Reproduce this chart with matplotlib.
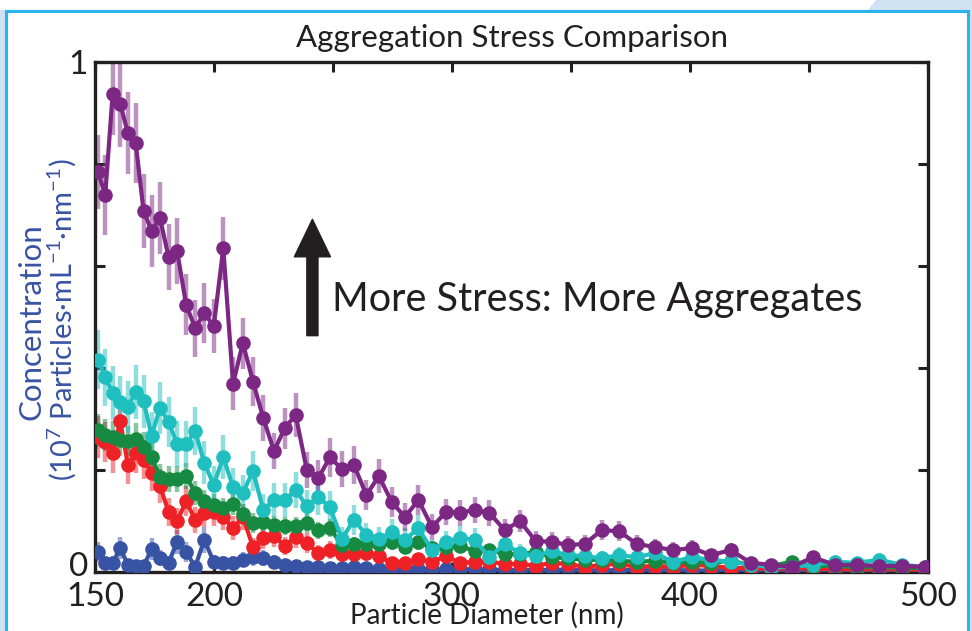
import matplotlib
matplotlib.use("Agg")
import matplotlib.pyplot as plt
import matplotlib.transforms as mtransforms
from matplotlib.patches import Rectangle, Polygon, FancyArrowPatch

plt.rcParams['font.family'] = ['Lato', 'DejaVu Sans']
plt.rcParams['mathtext.fontset'] = 'custom'
plt.rcParams['mathtext.rm'] = 'Lato'
plt.rcParams['mathtext.it'] = 'Lato:italic'

# ---------------- data ----------------
diameter = [151.3, 154.3, 157.4, 160.6, 163.8, 167.1, 170.4, 173.8, 177.3, 180.9,
            184.5, 188.3, 192.1, 195.9, 199.9, 203.9, 208.0, 212.1, 216.4, 220.7,
            225.2, 229.7, 234.3, 239.0, 243.8, 248.7, 253.7, 258.8, 264.0, 269.3,
            274.7, 280.2, 285.9, 291.6, 297.5, 303.4, 309.5, 315.7, 322.1, 328.5,
            335.1, 341.9, 348.8, 355.8, 362.9, 370.2, 377.6, 385.2, 392.9, 400.8,
            408.9, 417.1, 425.5, 434.0, 442.8, 451.7, 460.8, 470.0, 479.5, 489.1,
            498.9]

blue = [0.039, 0.018, 0.018, 0.047, 0.014, 0.012, 0.012, 0.045, 0.027, 0.018,
        0.059, 0.039, 0.010, 0.063, 0.020, 0.018, 0.018, 0.024, 0.029, 0.027,
        0.020, 0.014, 0.012, 0.010, 0.010, 0.008, 0.008, 0.010, 0.008, 0.006,
        0.006, 0.008, 0.006, 0.006, 0.005, 0.006, 0.005, 0.005, 0.004, 0.004,
        0.004, 0.004, 0.005, 0.004, 0.003, 0.004, 0.004, 0.003, 0.004, 0.003,
        0.003, 0.004, 0.003, 0.003, 0.003, 0.003, 0.003, 0.003, 0.003, 0.003,
        0.003]
blue_err = [0.020, 0.013, 0.013, 0.022, 0.012, 0.011, 0.011, 0.021, 0.016, 0.013,
            0.024, 0.020, 0.010, 0.025, 0.014, 0.013, 0.013, 0.015, 0.017, 0.016,
            0.014, 0.012, 0.011, 0.010, 0.010, 0.009, 0.009, 0.010, 0.009, 0.008,
            0.008, 0.009, 0.008, 0.008, 0.007, 0.008, 0.007, 0.007, 0.006, 0.006,
            0.006, 0.006, 0.007, 0.006, 0.006, 0.006, 0.006, 0.006, 0.006, 0.006,
            0.006, 0.006, 0.006, 0.006, 0.006, 0.006, 0.006, 0.006, 0.006, 0.006,
            0.006]

red = [0.265, 0.255, 0.233, 0.296, 0.210, 0.233, 0.220, 0.194, 0.169, 0.118,
       0.100, 0.139, 0.102, 0.116, 0.118, 0.108, 0.086, 0.108, 0.049, 0.067,
       0.071, 0.051, 0.069, 0.057, 0.037, 0.043, 0.035, 0.035, 0.037, 0.031,
       0.018, 0.018, 0.025, 0.020, 0.031, 0.018, 0.020, 0.020, 0.016, 0.016,
       0.012, 0.018, 0.016, 0.010, 0.014, 0.016, 0.010, 0.012, 0.010, 0.014,
       0.012, 0.008, 0.008, 0.006, 0.008, 0.006, 0.006, 0.005, 0.006, 0.005,
       0.005]
red_err = [0.041, 0.040, 0.039, 0.044, 0.037, 0.039, 0.038, 0.035, 0.033, 0.027,
           0.025, 0.030, 0.026, 0.027, 0.027, 0.026, 0.023, 0.026, 0.018, 0.021,
           0.021, 0.018, 0.021, 0.019, 0.015, 0.017, 0.015, 0.015, 0.015, 0.014,
           0.011, 0.011, 0.013, 0.011, 0.014, 0.011, 0.011, 0.011, 0.010, 0.010,
           0.009, 0.011, 0.010, 0.008, 0.009, 0.010, 0.008, 0.009, 0.008, 0.009,
           0.009, 0.007, 0.007, 0.006, 0.007, 0.006, 0.006, 0.006, 0.006, 0.006,
           0.006]

green = [0.278, 0.269, 0.265, 0.259, 0.257, 0.261, 0.245, 0.225, 0.186, 0.182,
         0.182, 0.188, 0.155, 0.139, 0.131, 0.125, 0.133, 0.114, 0.096, 0.098,
         0.092, 0.090, 0.090, 0.096, 0.082, 0.086, 0.053, 0.055, 0.055, 0.055,
         0.059, 0.049, 0.059, 0.047, 0.049, 0.051, 0.041, 0.043, 0.035, 0.035,
         0.039, 0.029, 0.027, 0.024, 0.024, 0.022, 0.020, 0.022, 0.018, 0.020,
         0.018, 0.022, 0.014, 0.012, 0.020, 0.012, 0.012, 0.010, 0.010, 0.008,
         0.008]
green_err = [0.032, 0.031, 0.031, 0.031, 0.030, 0.031, 0.030, 0.028, 0.026, 0.026,
             0.026, 0.026, 0.024, 0.022, 0.022, 0.021, 0.022, 0.020, 0.019, 0.019,
             0.018, 0.018, 0.018, 0.019, 0.017, 0.018, 0.014, 0.014, 0.014, 0.014,
             0.015, 0.013, 0.015, 0.013, 0.013, 0.014, 0.012, 0.012, 0.011, 0.011,
             0.012, 0.010, 0.010, 0.009, 0.009, 0.009, 0.008, 0.009, 0.008, 0.008,
             0.008, 0.009, 0.007, 0.007, 0.008, 0.007, 0.007, 0.006, 0.006, 0.005,
             0.005]

cyan = [0.416, 0.382, 0.351, 0.333, 0.324, 0.353, 0.335, 0.267, 0.322, 0.294,
        0.251, 0.251, 0.276, 0.214, 0.171, 0.225, 0.167, 0.155, 0.198, 0.122,
        0.141, 0.141, 0.161, 0.129, 0.147, 0.127, 0.065, 0.102, 0.073, 0.065,
        0.078, 0.063, 0.086, 0.043, 0.059, 0.067, 0.063, 0.029, 0.055, 0.037,
        0.031, 0.041, 0.033, 0.031, 0.027, 0.033, 0.029, 0.037, 0.020, 0.029,
        0.024, 0.020, 0.014, 0.010, 0.010, 0.014, 0.020, 0.018, 0.024, 0.014,
        0.010]
cyan_err = [0.058, 0.056, 0.053, 0.052, 0.051, 0.053, 0.052, 0.047, 0.051, 0.049,
            0.045, 0.045, 0.047, 0.042, 0.037, 0.043, 0.037, 0.035, 0.040, 0.031,
            0.034, 0.034, 0.036, 0.032, 0.035, 0.032, 0.023, 0.029, 0.024, 0.023,
            0.025, 0.023, 0.026, 0.019, 0.022, 0.023, 0.023, 0.015, 0.021, 0.017,
            0.016, 0.018, 0.016, 0.016, 0.015, 0.016, 0.015, 0.017, 0.013, 0.015,
            0.014, 0.013, 0.011, 0.009, 0.009, 0.011, 0.013, 0.012, 0.014, 0.011,
            0.009]

purple = [0.784, 0.739, 0.937, 0.918, 0.861, 0.841, 0.708, 0.669, 0.694, 0.618,
          0.629, 0.524, 0.478, 0.508, 0.482, 0.635, 0.369, 0.449, 0.373, 0.302,
          0.237, 0.282, 0.308, 0.200, 0.184, 0.225, 0.202, 0.210, 0.151, 0.188,
          0.137, 0.108, 0.141, 0.088, 0.118, 0.116, 0.122, 0.116, 0.082, 0.100,
          0.061, 0.059, 0.053, 0.055, 0.082, 0.080, 0.055, 0.049, 0.043, 0.047,
          0.033, 0.043, 0.018, 0.014, 0.010, 0.029, 0.014, 0.014, 0.012, 0.012,
          0.010]
purple_err = [0.072, 0.078, 0.080, 0.084, 0.080, 0.078, 0.072, 0.070, 0.070, 0.065,
              0.065, 0.060, 0.056, 0.058, 0.053, 0.062, 0.052, 0.050, 0.048, 0.045,
              0.035, 0.040, 0.043, 0.036, 0.035, 0.038, 0.036, 0.037, 0.030, 0.033,
              0.030, 0.028, 0.030, 0.025, 0.026, 0.026, 0.026, 0.025, 0.022, 0.022,
              0.020, 0.019, 0.018, 0.018, 0.020, 0.020, 0.017, 0.016, 0.015, 0.015,
              0.013, 0.014, 0.010, 0.009, 0.008, 0.012, 0.009, 0.009, 0.008, 0.008,
              0.008]

series = [
    (blue, blue_err, '#3953A4'),
    (red, red_err, '#EE2226'),
    (green, green_err, '#178A42'),
    (cyan, cyan_err, '#1FBFBF'),
    (purple, purple_err, '#7B2783'),
]

x_ticks = [150, 200, 250, 300, 350, 400, 450, 500]
x_ticklabels = ['150', '200', '', '300', '', '400', '', '500']
y_ticks = [0, 0.2, 0.4, 0.6, 0.8, 1.0]
y_ticklabels = ['0', '', '', '', '', '1']

title = 'Aggregation Stress Comparison'
xlabel = 'Particle Diameter (nm)'
ylabel_1 = 'Concentration'
ylabel_2 = '(10$^{7}$ Particles·mL$^{-1}$·nm$^{-1}$)'
note = 'More Stress: More Aggregates'

# ---------------- figure ----------------
fig = plt.figure(figsize=(9.72, 6.31), dpi=100)
fig.patch.set_facecolor('white')

# decorative frame
W, H = 972.0, 631.0
light = '#CFE2F3'
fig.patches.append(Rectangle((0, 0), 6 / W, 1 - 10 / H, transform=fig.transFigure,
                             facecolor=light, edgecolor='none', zorder=-3))
fig.patches.append(Rectangle((968 / W, 0), 4 / W, 1 - 10 / H, transform=fig.transFigure,
                             facecolor=light, edgecolor='none', zorder=-3))
fig.patches.append(Polygon([(868 / W, 1 - 10 / H), (876 / W, 1.0), (1.0, 1.0), (1.0, 1 - 10 / H)],
                           closed=True, transform=fig.transFigure,
                           facecolor=light, edgecolor='none', zorder=-3))
fig.patches.append(Rectangle((6 / W, -0.05), (968 - 6) / W, 1 - 11 / H + 0.05,
                             transform=fig.transFigure, facecolor='white',
                             edgecolor='#2BB3EE', linewidth=2.2, zorder=-2))

ax = fig.add_axes([95 / W, 1 - 572 / H, (928 - 95) / W, (572 - 62) / H])
ax.set_zorder(1)
ax.set_facecolor('white')

for vals, errs, col in series:
    ax.errorbar(diameter, vals, yerr=errs, fmt='none', ecolor=col, elinewidth=3.2,
                alpha=0.5, capsize=0, zorder=2)
    ax.plot(diameter, vals, '-o', color=col, lw=3.0, markersize=10.5,
            markeredgewidth=0, zorder=3)

ax.set_xlim(150, 500)
ax.set_ylim(0, 1)
ax.set_xticks(x_ticks)
ax.set_xticklabels(x_ticklabels)
ax.set_yticks(y_ticks)
ax.set_yticklabels(y_ticklabels)
ax.tick_params(direction='in', length=7, width=2.2, top=True, right=True,
               labelsize=24, colors='#231F20')
ax.tick_params(axis='x', pad=7)
ax.tick_params(axis='y', pad=5)
for s in ax.spines.values():
    s.set_linewidth(2.4)
    s.set_color('#231F20')

# the "0" label sits slightly above the bottom spine in the reference
zero_label = ax.get_yticklabels()[0]
zero_label.set_transform(zero_label.get_transform() +
                         mtransforms.ScaledTranslation(0, 8 / 100, fig.dpi_scale_trans))

fig.text(0.5 * (95 + 928) / W, 1 - 38 / H, title, ha='center', va='center',
         fontsize=22.5, color='#231F20')
ax.set_xlabel(xlabel, fontsize=20, color='#231F20')
ax.xaxis.set_label_coords(0.471, -0.058)

fig.text(31 / W, 1 - 322 / H, ylabel_1, rotation=90, ha='center', va='center',
         fontsize=22.5, color='#3953A4')
fig.text(62 / W, 1 - 320 / H, ylabel_2, rotation=90, ha='center', va='center',
         fontsize=21, color='#3953A4')

arrow = FancyArrowPatch((0.261, 0.458), (0.261, 0.697), transform=ax.transAxes,
                        arrowstyle='simple,head_width=2.6,head_length=2.7,tail_width=0.8',
                        mutation_scale=10, color='#231F20', zorder=5)
ax.add_patch(arrow)
ax.text(0.285, 0.535, note, transform=ax.transAxes, fontsize=28.5, color='#231F20',
        ha='left', va='center')

fig.savefig('out.png', dpi=100, facecolor=fig.get_facecolor())
